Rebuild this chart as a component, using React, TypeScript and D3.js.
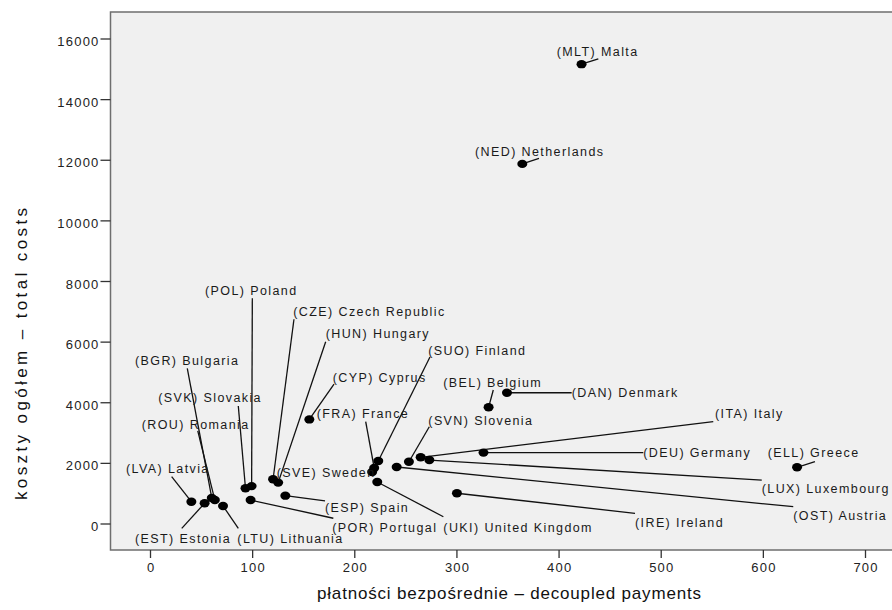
import React from "react";
import * as d3 from "d3";

// ---- data ----
const codes = ["MLT","NED","POL","CZE","HUN","BGR","ROU","SVK","LVA","EST","LTU","ESP","POR","CYP","FRA","SUO","SVE","UKI","BEL","DAN","SVN","ITA","DEU","LUX","OST","IRE","ELL"];
const names = ["Malta","Netherlands","Poland","Czech Republic","Hungary","Bulgaria","Romania","Slovakia","Latvia","Estonia","Lithuania","Spain","Portugal","Cyprus","France","Finland","Sweden","United Kingdom","Belgium","Denmark","Slovenia","Italy","Germany","Luxembourg","Austria","Ireland","Greece"];
const decoupled = [422,364,99,120,125,60,63,93,40,53,71,132,98,155.5,219,223,217,222,331,349,253,264.5,326,273,241,300,633];
const totalCosts = [15170,11880,1250,1475,1365,860,790,1180,735,685,595,935,790,3450,1850,2080,1715,1385,3850,4330,2055,2200,2355,2110,1880,1015,1870];

const xTicks = [0,100,200,300,400,500,600,700];
const yTicks = [0,2000,4000,6000,8000,10000,12000,14000,16000];

// ---- label layout (pixel offsets from the point: text left/baseline, leader end) ----
const labelLayout: Record<string, [number, number, number, number]> = {
  MLT: [-24.8, -8.2, 16.8, -5.2],
  NED: [-47.3, -7.9, 16.7, -5.6],
  POL: [-46.6, -191.1, 0.7, -187.8],
  CZE: [20.2, -163.3, 20.9, -160],
  HUN: [47.5, -144.6, 47.5, -140.9],
  BGR: [-76.8, -132.9, -24.5, -129.6],
  ROU: [-73.1, -71.1, -17.1, -69.1],
  SVK: [-87.2, -86.5, -7.2, -82.2],
  LVA: [-65.4, -28.7, -19.7, -25],
  EST: [-69.6, 39.5, -22.9, 25.1],
  LTU: [14.3, 36.7, 15.3, 22.3],
  ESP: [39.7, 16, 39.7, 5.3],
  POR: [81.7, 31.6, 82.7, 18.2],
  CYP: [23.4, -37.7, 24.7, -35.4],
  FRA: [-57.5, -49.9, -8.5, -46.2],
  SUO: [50, -105.9, 51.7, -103.9],
  SVE: [-95.4, 5, 0, 0],
  UKI: [66.1, 49.7, 66.1, 34.7],
  BEL: [-45.3, -20.6, 4.7, -17.3],
  DAN: [64.7, 4.3, 64.7, 0],
  SVN: [19.4, -36.7, 20.4, -35],
  ITA: [294.3, -39.3, 292.6, -35.6],
  DEU: [159.8, 4.4, 159.8, 0],
  LUX: [332.4, 33, 332.4, 20],
  OST: [396.6, 53, 396.6, 39.7],
  IRE: [178.1, 33.5, 178.1, 20.1],
  ELL: [-29.4, -10.3, 17.9, -5.6],
};

const W = 892, H = 610;
const plot = { left: 110.5, top: 12, right: 910, bottom: 550 };

export default function App() {
  const x = d3.scaleLinear().domain([0, 700]).range([150.5, 865.5]);
  const y = d3.scaleLinear().domain([0, 16000]).range([524, 39]);
  const font = "'Liberation Sans', Arial, sans-serif";
  const pts = codes.map((c, i) => ({ c, n: names[i], px: x(decoupled[i]), py: y(totalCosts[i]) }));
  return (
    <svg width={W} height={H} style={{ position: "absolute", left: 0, top: 0, background: "#fff" }} fontFamily={font}>
      <rect x={plot.left} y={plot.top} width={plot.right - plot.left} height={plot.bottom - plot.top} fill="#f0f0f0" stroke="#6e6e6e" strokeWidth={1.5} />
      {yTicks.map((t) => (
        <g key={"y" + t}>
          <line x1={plot.left - 10} x2={plot.left} y1={y(t)} y2={y(t)} stroke="#333" strokeWidth={1.3} />
          <text x={plot.left - 11} y={y(t) + 7} textAnchor="end" fontSize={13} letterSpacing={1.2} fill="#222">{t}</text>
        </g>
      ))}
      {xTicks.map((t) => (
        <g key={"x" + t}>
          <line x1={x(t)} x2={x(t)} y1={plot.bottom} y2={plot.bottom + 8} stroke="#333" strokeWidth={1.3} />
          <text x={x(t) + 0.6} y={plot.bottom + 21.5} textAnchor="middle" fontSize={13} letterSpacing={1.2} fill="#222">{t}</text>
        </g>
      ))}
      {pts.map((p) => {
        const L = labelLayout[p.c];
        return (
          <g key={p.c}>
            {(L[2] !== 0 || L[3] !== 0) && (
              <line x1={p.px} y1={p.py} x2={p.px + L[2]} y2={p.py + L[3]} stroke="#111" strokeWidth={1.3} />
            )}
          </g>
        );
      })}
      {pts.map((p) => (
        <ellipse key={"d" + p.c} cx={p.px} cy={p.py} rx={5} ry={4.2} fill="#000" />
      ))}
      {pts.map((p) => {
        const L = labelLayout[p.c];
        return (
          <text key={"t" + p.c} x={p.px + L[0]} y={p.py + L[1]} fontSize={12.5} letterSpacing={1.4} fill="#1a1a1a">
            {`(${p.c}) ${p.n}`}
          </text>
        );
      })}
      <text x={509} y={599} textAnchor="middle" fontSize={17} textLength={384} lengthAdjust="spacing" fill="#111">płatności bezpośrednie – decoupled payments</text>
      <text transform={`translate(27,354) rotate(-90)`} textAnchor="middle" fontSize={17} textLength={292} lengthAdjust="spacing" fill="#111">koszty ogółem – total costs</text>
    </svg>
  );
}
